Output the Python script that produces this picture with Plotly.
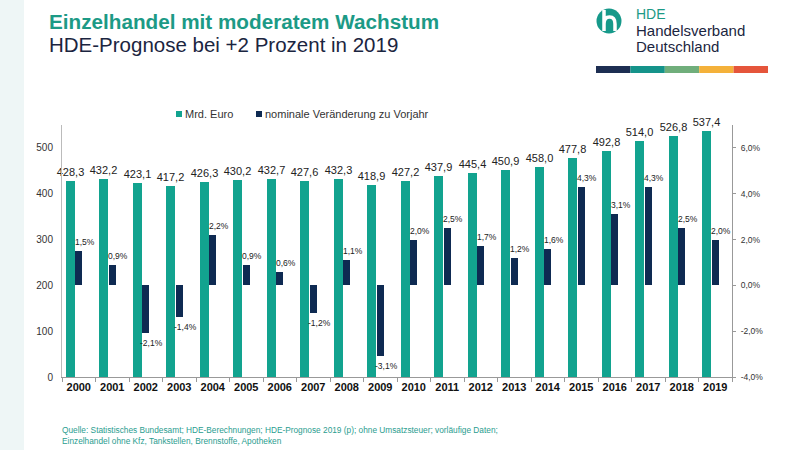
import plotly.graph_objects as go

# ---------------- data ----------------
years = [str(y) for y in range(2000, 2020)]
umsatz_mrd_euro = [428.3, 432.2, 423.1, 417.2, 426.3, 430.2, 432.7, 427.6, 432.3, 418.9,
                   427.2, 437.9, 445.4, 450.9, 458.0, 477.8, 492.8, 514.0, 526.8, 537.4]
veraenderung_pct = [1.5, 0.9, -2.1, -1.4, 2.2, 0.9, 0.6, -1.2, 1.1, -3.1,
                    2.0, 2.5, 1.7, 1.2, 1.6, 4.3, 3.1, 4.3, 2.5, 2.0]
left_tickvals = [0, 100, 200, 300, 400, 500]
right_tickvals = [-4, -2, 0, 2, 4, 6]
right_ticktext = ["-4,0%", "-2,0%", "0,0%", "2,0%", "4,0%", "6,0%"]

TEAL = "#12a38f"
NAVY = "#0e2a52"
TITLE_TEAL = "#1c9a86"
DARK = "#1b2540"
FONT = "Liberation Sans, Arial, sans-serif"

W, H = 800, 450
L, R, T, B = 62, 68, 125, 73
PW, PH = W - L - R, H - T - B


def px(x):
    return (x - L) / PW


def py(y):
    return (H - B - y) / PH


def de(v, d=1):
    return f"{v:.{d}f}".replace(".", ",")


fig = go.Figure()
fig.add_trace(go.Bar(
    x=years, y=umsatz_mrd_euro, name="Mrd. Euro", marker_color=TEAL, marker_line_width=0,
    offset=-0.385, width=0.27,
    text=[de(v) for v in umsatz_mrd_euro], textposition="outside",
    textfont=dict(size=11, color="#222222", family=FONT),
    constraintext="none", cliponaxis=False, yaxis="y", showlegend=False,
))
fig.add_trace(go.Bar(
    x=years, y=veraenderung_pct, name="nominale Veränderung zu Vorjahr",
    marker_color=NAVY, marker_line_width=0,
    offset=-0.11, width=0.21, yaxis="y2", showlegend=False,
))

annotations = []
for i, v in enumerate(veraenderung_pct):
    annotations.append(dict(
        x=i, y=v, xref="x", yref="y2", text=de(v) + "%", showarrow=False,
        xanchor="center", yanchor="bottom" if v >= 0 else "top",
        xshift=6, yshift=2 if v >= 0 else -3,
        font=dict(size=8.5, color="#222222", family=FONT),
    ))

# titles
annotations.append(dict(x=px(47), y=py(22), xref="paper", yref="paper", xanchor="left", yanchor="middle",
                        text="<b>Einzelhandel mit moderatem Wachstum</b>", showarrow=False,
                        font=dict(size=20.7, color=TITLE_TEAL, family=FONT)))
annotations.append(dict(x=px(47), y=py(44), xref="paper", yref="paper", xanchor="left", yanchor="middle",
                        text="HDE-Prognose bei +2 Prozent in 2019", showarrow=False,
                        font=dict(size=20.5, color=DARK, family=FONT)))
# logo text
annotations.append(dict(x=px(634), y=py(14), xref="paper", yref="paper", xanchor="left", yanchor="middle",
                        text="HDE", showarrow=False, font=dict(size=14, color=TITLE_TEAL, family=FONT)))
annotations.append(dict(x=px(634), y=py(30), xref="paper", yref="paper", xanchor="left", yanchor="middle",
                        text="Handelsverband", showarrow=False, font=dict(size=15, color=DARK, family=FONT)))
annotations.append(dict(x=px(634), y=py(46), xref="paper", yref="paper", xanchor="left", yanchor="middle",
                        text="Deutschland", showarrow=False, font=dict(size=15, color=DARK, family=FONT)))
# legend
annotations.append(dict(x=px(183), y=py(114), xref="paper", yref="paper", xanchor="left", yanchor="middle",
                        text="Mrd. Euro", showarrow=False, font=dict(size=11, color="#333333", family=FONT)))
annotations.append(dict(x=px(263), y=py(114), xref="paper", yref="paper", xanchor="left", yanchor="middle",
                        text="nominale Veränderung zu Vorjahr", showarrow=False,
                        font=dict(size=11, color="#333333", family=FONT)))
# footer
annotations.append(dict(x=px(60), y=py(430), xref="paper", yref="paper", xanchor="left", yanchor="middle",
                        text="Quelle: Statistisches Bundesamt; HDE-Berechnungen; HDE-Prognose 2019 (p); ohne Umsatzsteuer; vorläufige Daten;",
                        showarrow=False, font=dict(size=8.3, color="#2a9d8f", family=FONT)))
annotations.append(dict(x=px(60), y=py(441), xref="paper", yref="paper", xanchor="left", yanchor="middle",
                        text="Einzelhandel ohne Kfz, Tankstellen, Brennstoffe, Apotheken",
                        showarrow=False, font=dict(size=8.3, color="#2a9d8f", family=FONT)))

shapes = [
    # faint slide edge strip
    dict(type="rect", xref="paper", yref="paper", x0=px(0), x1=px(24), y0=py(0), y1=py(450),
         fillcolor="#eef6f6", line_width=0, layer="below"),
    # legend squares
    dict(type="rect", xref="paper", yref="paper", x0=px(176), x1=px(182), y0=py(111), y1=py(117),
         fillcolor=TEAL, line_width=0),
    dict(type="rect", xref="paper", yref="paper", x0=px(256), x1=px(262), y0=py(111), y1=py(117),
         fillcolor=NAVY, line_width=0),
    # logo circle
    dict(type="circle", xref="paper", yref="paper", x0=px(596.5), x1=px(621.5), y0=py(8.5), y1=py(33.5),
         fillcolor="#16998a", line_width=0),
]
# logo "h" mark
shapes.append(dict(type="path", xref="paper", yref="paper",
                   path=f"M {px(604)} {py(10)} L {px(604)} {py(31)} "
                        f"M {px(604)} {py(24)} Q {px(604)} {py(17)} {px(609.5)} {py(17)} "
                        f"Q {px(615)} {py(17)} {px(615)} {py(24)} L {px(615)} {py(31)}",
                   line=dict(color="white", width=3.5)))
# colour strip under logo
strip_colors = ["#1d2e52", "#15938a", "#70ae7b", "#f4b13a", "#e5553b"]
for i, c in enumerate(strip_colors):
    shapes.append(dict(type="rect", xref="paper", yref="paper",
                       x0=px(596 + i * 34.4), x1=px(596 + (i + 1) * 34.4), y0=py(66), y1=py(73),
                       fillcolor=c, line_width=0))

fig.update_layout(
    width=W, height=H, margin=dict(l=L, r=R, t=T, b=B, autoexpand=False),
    paper_bgcolor="white", plot_bgcolor="white",
    barmode="overlay", bargap=0,
    font=dict(family=FONT, color="#333333"),
    annotations=annotations, shapes=shapes,
    xaxis=dict(type="category", range=[-0.5, 19.5], tickson="boundaries", ticks="outside", ticklen=4,
               tickcolor="#999999", showline=True, linecolor="#999999", linewidth=1, showgrid=False,
               tickangle=0,
               tickfont=dict(size=11, color="#111111", family=FONT, weight="bold"), fixedrange=True),
    yaxis=dict(range=[0, 550], tickvals=left_tickvals, showline=True, linecolor="#bbbbbb", linewidth=1,
               showgrid=False, zeroline=False, ticks="", tickfont=dict(size=10, color="#333333"),
               ticklabelstandoff=6),
    yaxis2=dict(range=[-4, 7], overlaying="y", side="right", tickvals=right_tickvals, ticktext=right_ticktext,
                showline=True, linecolor="#999999", linewidth=1, showgrid=False, zeroline=False,
                ticks="outside", ticklen=3, tickcolor="#999999",
                tickfont=dict(size=8.5, color="#333333"), ticklabelstandoff=3),
)

fig.write_html("out.html", config={"displayModeBar": False},
               post_script="document.body.style.margin='0';")
